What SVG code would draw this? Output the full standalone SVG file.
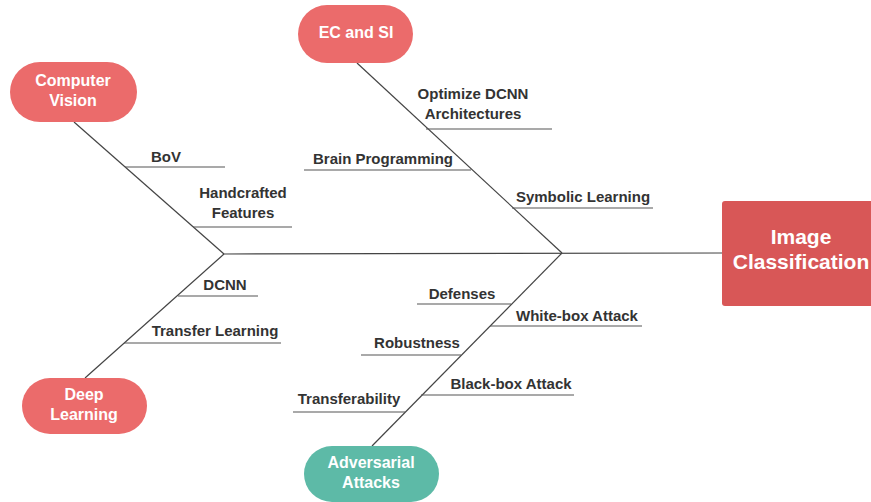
<svg xmlns="http://www.w3.org/2000/svg" width="871" height="502" viewBox="0 0 871 502">
<style>
.ln{stroke:#444;stroke-width:1.2;fill:none}
.br{stroke:#555;stroke-width:1.2;fill:none}
.lb{font-family:"Liberation Sans",Arial,sans-serif;font-weight:bold;font-size:15px;fill:#333;text-anchor:middle}
.nt{font-family:"Liberation Sans",Arial,sans-serif;font-weight:bold;font-size:16px;fill:#fff;text-anchor:middle}
.big{font-family:"Liberation Sans",Arial,sans-serif;font-weight:bold;font-size:21px;fill:#fff;text-anchor:middle}
.red{fill:#EB6B6B}
</style>
<rect width="871" height="502" fill="#fff"/>
<g id="connectors">
<line class="ln" x1="224" y1="254" x2="722" y2="253"/>
<line class="ln" x1="74" y1="122" x2="224" y2="254"/>
<line class="ln" x1="224" y1="254" x2="85" y2="378"/>
<line class="ln" x1="357" y1="63" x2="562" y2="253"/>
<line class="ln" x1="562" y1="253" x2="372" y2="446"/>
<line class="br" x1="125" y1="167" x2="225" y2="167"/>
<line class="br" x1="193" y1="227" x2="292" y2="227"/>
<line class="br" x1="178" y1="296" x2="258" y2="296"/>
<line class="br" x1="124" y1="343" x2="281" y2="343"/>
<line class="br" x1="426" y1="129" x2="552" y2="129"/>
<line class="br" x1="304" y1="170" x2="471" y2="170"/>
<line class="br" x1="512" y1="208" x2="653" y2="208"/>
<line class="br" x1="417" y1="304" x2="511" y2="304"/>
<line class="br" x1="490" y1="326" x2="642" y2="326"/>
<line class="br" x1="361" y1="355" x2="461" y2="355"/>
<line class="br" x1="421" y1="395" x2="574" y2="395"/>
<line class="br" x1="293" y1="412" x2="405" y2="412"/>
</g>
<g id="labels">
<text class="lb" x="166" y="162">BoV</text>
<text class="lb" x="243" y="198">Handcrafted</text>
<text class="lb" x="243" y="218">Features</text>
<text class="lb" x="473" y="99">Optimize DCNN</text>
<text class="lb" x="473" y="119">Architectures</text>
<text class="lb" x="383" y="164">Brain Programming</text>
<text class="lb" x="583" y="202">Symbolic Learning</text>
<text class="lb" x="225" y="290">DCNN</text>
<text class="lb" x="215" y="336">Transfer Learning</text>
<text class="lb" x="462" y="299">Defenses</text>
<text class="lb" x="577" y="321">White-box Attack</text>
<text class="lb" x="417" y="348">Robustness</text>
<text class="lb" x="511" y="389">Black-box Attack</text>
<text class="lb" x="349" y="404">Transferability</text>
</g>
<g id="computer-vision">
<rect class="red" x="10" y="62" width="127" height="60" rx="30"/>
<text class="nt" x="73" y="86">Computer</text>
<text class="nt" x="73" y="106">Vision</text>
</g>
<g id="ec-si">
<rect class="red" x="298" y="5" width="115" height="58" rx="29"/>
<text class="nt" x="356" y="38">EC and SI</text>
</g>
<g id="deep-learning">
<rect class="red" x="22" y="378" width="125" height="56" rx="28"/>
<text class="nt" x="84" y="400">Deep</text>
<text class="nt" x="84" y="420">Learning</text>
</g>
<g id="adversarial-attacks">
<rect x="304" y="446" width="135" height="56" rx="28" fill="#5DBAA7"/>
<text class="nt" x="371" y="468">Adversarial</text>
<text class="nt" x="371" y="488">Attacks</text>
</g>
<g id="image-classification">
<rect x="722" y="201" width="160" height="105" rx="3" fill="#D85757"/>
<text class="big" x="801" y="244">Image</text>
<text class="big" x="801" y="269">Classification</text>
</g>
</svg>
